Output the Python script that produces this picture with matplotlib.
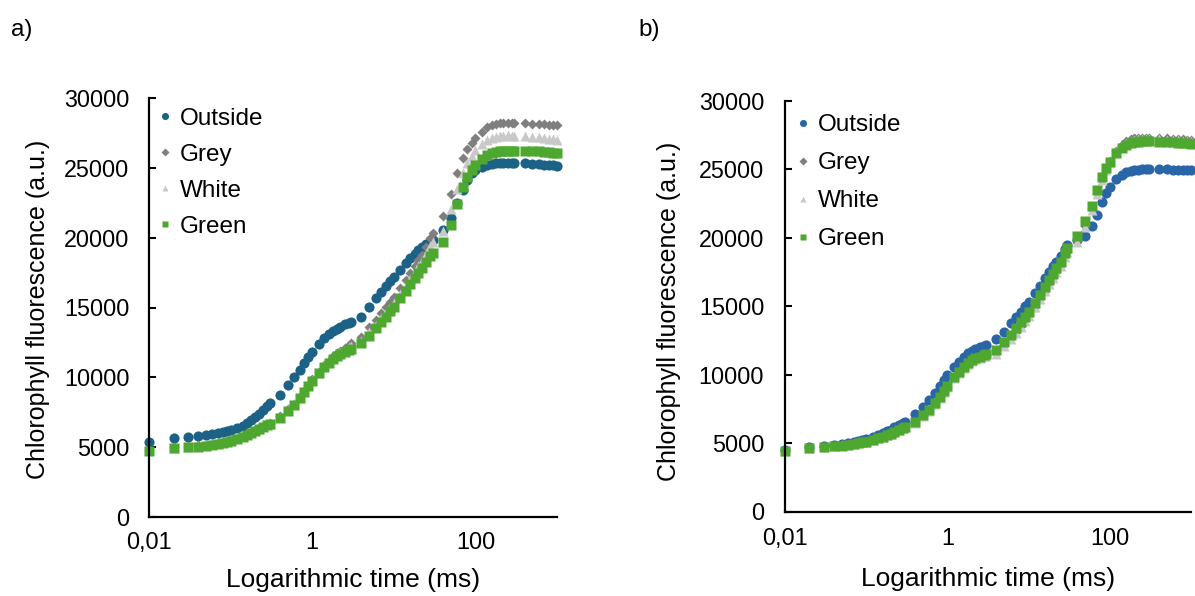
import matplotlib
matplotlib.use("Agg")
import matplotlib.pyplot as plt
from matplotlib.ticker import FixedLocator, FixedFormatter, NullLocator

plt.rcParams['font.family'] = ['Liberation Sans', 'DejaVu Sans']

# time points (ms)
time_ms = [0.01, 0.02, 0.03, 0.04, 0.05, 0.06, 0.07, 0.08, 0.09, 0.10,
           0.12, 0.14, 0.16, 0.18, 0.20, 0.22, 0.25, 0.28, 0.30,
           0.4, 0.5, 0.6, 0.7, 0.8, 0.9, 1.0, 1.2, 1.4, 1.6, 1.8, 2.0, 2.2, 2.5, 2.8, 3.0,
           4, 5, 6, 7, 8, 9, 10, 12, 14, 16, 18, 20, 22, 25, 28, 30,
           40, 50, 60, 70, 80, 90, 100, 120, 140, 160, 180, 200, 220, 250, 280, 300,
           400, 500, 600, 700, 800, 900, 1000]

# panel a)
a_outside = [5400, 5650, 5750, 5800, 5870, 5940, 6040, 6110, 6170, 6230,
             6350, 6520, 6710, 6950, 7140, 7380, 7660, 7950, 8140,
             8740, 9450, 10000, 10530, 11000, 11480, 11840, 12390, 12790, 13080, 13300, 13490, 13630, 13800, 13920, 13990,
             14350, 15010, 15660, 16140, 16540, 16920, 17210, 17690, 18160, 18520, 18830, 19120, 19310, 19550, 19720, 19840,
             20550, 21430, 22460, 23400, 24150, 24600, 24850, 25040, 25180, 25280, 25320, 25350, 25370, 25370, 25370, 25370,
             25340, 25300, 25270, 25230, 25200, 25180, 25160]
a_grey = [4830, 5000, 5070, 5120, 5160, 5240, 5310, 5380, 5460, 5550,
          5690, 5830, 5980, 6120, 6240, 6360, 6550, 6680, 6730,
          7200, 7700, 8100, 8580, 9050, 9460, 9850, 10400, 10850, 11200, 11500, 11720, 11880, 12070, 12300, 12450,
          12910, 13580, 14110, 14590, 15010, 15420, 15730, 16380, 16970, 17500, 17970, 18400, 18760, 19360, 19960, 20360,
          21550, 23110, 24610, 25680, 26330, 26760, 27120, 27590, 27900, 28070, 28170, 28210, 28230, 28240, 28240, 28230,
          28190, 28160, 28130, 28110, 28090, 28070, 28050]
a_white = [4790, 4960, 5030, 5080, 5120, 5200, 5270, 5340, 5420, 5510,
           5650, 5790, 5940, 6080, 6200, 6320, 6510, 6640, 6690,
           7150, 7660, 8060, 8540, 9010, 9420, 9800, 10340, 10780, 11120, 11420, 11630, 11780, 11960, 12150, 12250,
           12600, 13250, 13780, 14250, 14650, 15050, 15350, 15980, 16550, 17070, 17530, 17950, 18300, 18850, 19380, 19700,
           20450, 22050, 23500, 24600, 25350, 25850, 26250, 26700, 26980, 27150, 27240, 27290, 27310, 27320, 27310, 27300,
           27270, 27220, 27180, 27140, 27100, 27060, 27020]
a_green = [4750, 4920, 4990, 5040, 5080, 5160, 5230, 5300, 5380, 5470,
           5610, 5750, 5900, 6040, 6160, 6280, 6470, 6600, 6650,
           7070, 7610, 8020, 8500, 8980, 9380, 9760, 10290, 10720, 11050, 11340, 11530, 11670, 11840, 11960, 12010,
           12440, 12990, 13510, 13940, 14350, 14750, 15060, 15660, 16180, 16660, 17090, 17450, 17800, 18250, 18700, 18930,
           19720, 20910, 22390, 23610, 24320, 24850, 25210, 25640, 25900, 26040, 26140, 26190, 26210, 26230, 26230, 26230,
           26210, 26190, 26170, 26140, 26110, 26090, 26070]

# panel b)
b_outside = [4520, 4680, 4760, 4850, 4920, 4990, 5060, 5130, 5200, 5270,
             5410, 5560, 5710, 5850, 5990, 6140, 6330, 6480, 6560,
             7120, 7660, 8150, 8680, 9170, 9610, 9970, 10530, 10950, 11310, 11560, 11750, 11870, 12000, 12090, 12170,
             12580, 13140, 13750, 14190, 14600, 15010, 15330, 15940, 16480, 17040, 17530, 17940, 18260, 18670, 19150, 19450,
             19830, 20160, 20860, 21660, 22640, 23300, 23740, 24270, 24590, 24790, 24880, 24960, 24990, 25010, 25010, 25010,
             25000, 25000, 24990, 24990, 24970, 24960, 24950]
b_grey = [4450, 4650, 4720, 4790, 4850, 4910, 4960, 5020, 5080, 5130,
          5250, 5370, 5490, 5610, 5720, 5830, 5990, 6130, 6180,
          6510, 7000, 7370, 7850, 8340, 8780, 9120, 9750, 10170, 10530, 10820, 11020, 11140, 11270, 11390, 11430,
          11550, 12160, 12650, 13130, 13570, 13990, 14350, 14960, 15570, 16130, 16670, 17110, 17520, 18010, 18650, 19000,
          19750, 20900, 22100, 23300, 24300, 25050, 25650, 26350, 26800, 27050, 27200, 27270, 27300, 27320, 27320, 27300,
          27290, 27260, 27240, 27220, 27200, 27180, 27160]
b_white = [4430, 4630, 4700, 4770, 4830, 4890, 4940, 5000, 5060, 5110,
           5230, 5350, 5470, 5590, 5700, 5810, 5970, 6110, 6160,
           6480, 6970, 7340, 7820, 8310, 8750, 9090, 9720, 10140, 10500, 10790, 10990, 11110, 11240, 11360, 11400,
           11500, 12110, 12600, 13080, 13520, 13940, 14300, 14910, 15520, 16080, 16620, 17060, 17470, 17960, 18600, 18950,
           19700, 20800, 22000, 23200, 24200, 24950, 25550, 26250, 26700, 26950, 27100, 27170, 27200, 27220, 27220, 27200,
           27190, 27160, 27140, 27120, 27100, 27080, 27060]
b_green = [4420, 4620, 4690, 4760, 4820, 4880, 4930, 4990, 5050, 5100,
           5220, 5340, 5460, 5580, 5690, 5800, 5960, 6100, 6150,
           6560, 7050, 7420, 7900, 8390, 8830, 9170, 9800, 10220, 10580, 10870, 11070, 11190, 11320, 11440, 11480,
           11800, 12410, 12900, 13380, 13820, 14240, 14600, 15210, 15820, 16380, 16920, 17360, 17770, 18260, 18900, 19250,
           20130, 21230, 22350, 23500, 24420, 25070, 25570, 26170, 26540, 26760, 26910, 26980, 27030, 27050, 27050, 27050,
           27030, 27000, 26980, 26950, 26930, 26900, 26880]

labels = ['Outside', 'Grey', 'White', 'Green']
markers = ['o', 'D', '^', 's']
sizes = [7.3, 5.4, 7.0, 6.9]
grey_col, white_col, green_col = '#7f7f7f', '#c9c9c9', '#4ea72e'

FS = 16.8      # tick labels
FS_LEG = 17.5  # legend
FS_YLAB = 18
FS_XLAB = 19

fig = plt.figure(figsize=(11.95, 5.96), dpi=100)


def panel(rect, series, colors, ylab_x, ylab_y, xlab_y, xpad, ypad, leg_xy, leg_space):
    ax = fig.add_axes(rect)
    for y, lab, m, ms, c in zip(series, labels, markers, sizes, colors):
        ax.plot(time_ms, y, linestyle='none', marker=m, ms=ms, color=c,
                mec='none', label=lab, clip_on=False)
    ax.set_xscale('log')
    ax.set_xlim(0.01, 1000)
    ax.set_ylim(0, 30000)
    ax.xaxis.set_major_locator(FixedLocator([0.01, 1, 100]))
    ax.xaxis.set_major_formatter(FixedFormatter(['0,01', '1', '100']))
    ax.xaxis.set_minor_locator(NullLocator())
    ax.set_yticks(range(0, 30001, 5000))
    ax.tick_params(axis='x', length=0, pad=xpad, labelsize=FS)
    ax.tick_params(axis='y', direction='in', length=5, width=1.5, pad=ypad, labelsize=FS)
    for s in ['top', 'right']:
        ax.spines[s].set_visible(False)
    for s in ['left', 'bottom']:
        ax.spines[s].set_linewidth(1.6)
    ax.set_ylabel('Chlorophyll fluorescence (a.u.)', fontsize=FS_YLAB)
    ax.yaxis.set_label_coords(ylab_x, ylab_y)
    ax.set_xlabel('Logarithmic time (ms)', fontsize=FS_XLAB)
    ax.xaxis.set_label_coords(0.5, xlab_y)
    ax.legend(loc='upper left', bbox_to_anchor=leg_xy, frameon=False, fontsize=FS_LEG,
              markerscale=0.7, handlelength=0.5, handletextpad=0.35,
              labelspacing=leg_space, borderpad=0, borderaxespad=0)
    return ax


panel([149 / 1195, 1 - 517 / 596, 408 / 1195, 419 / 596],
      [a_outside, a_grey, a_white, a_green],
      ['#1c6186', grey_col, white_col, green_col],
      -0.243, 0.496, -0.122, 10, 14, (0.025, 0.977), 0.58)

panel([785 / 1195, 1 - 511.5 / 596, 406 / 1195, 410.5 / 596],
      [b_outside, b_grey, b_white, b_green],
      ['#2a65a8', grey_col, white_col, green_col],
      -0.256, 0.488, -0.135, 11, 15, (0.03, 0.968), 0.66)

fig.text(11 / 1195, 1 - 30 / 596, 'a)', fontsize=FS_LEG, va='center', ha='left')
fig.text(638 / 1195, 1 - 30 / 596, 'b)', fontsize=FS_LEG, va='center', ha='left')

fig.savefig('out.png', dpi=100)
